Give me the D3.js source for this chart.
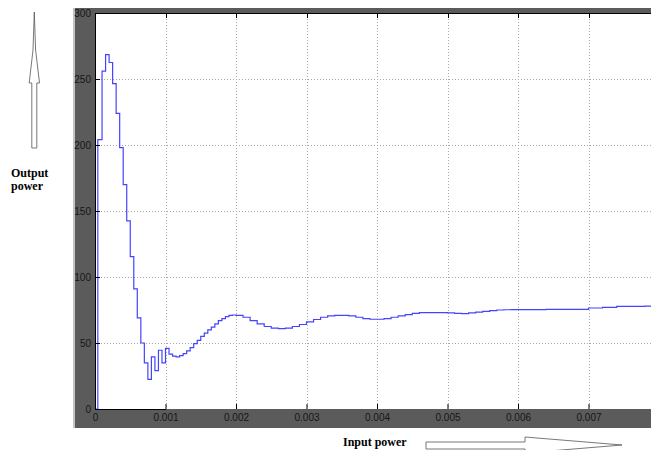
<!DOCTYPE html>
<html>
<head>
<meta charset="utf-8">
<script src="https://cdn.jsdelivr.net/npm/d3@7"></script>
<style>
  body { margin: 0; background: #fff; }
  .tick text { font-family: "Liberation Sans", Arial, sans-serif; font-size: 10px; fill: #161616; }
  .lbl { font-family: "Liberation Serif", "Times New Roman", serif; font-weight: bold; font-size: 12px; fill: #000; }
</style>
</head>
<body>
<div id="chart"></div>
<script>
// sample times (s) and output power
const times = [0, 0.00004, 0.0001, 0.00015, 0.0002, 0.00025, 0.0003, 0.00035, 0.0004, 0.00045,
  0.0005, 0.00055, 0.0006, 0.00065, 0.0007, 0.00075, 0.0008, 0.00085, 0.0009, 0.00095,
  0.001, 0.00105, 0.0011, 0.00115, 0.0012, 0.00125, 0.0013, 0.00135, 0.0014, 0.00145,
  0.0015, 0.00155, 0.0016, 0.00165, 0.0017, 0.00175, 0.0018, 0.00185, 0.0019, 0.00195,
  0.002, 0.0021, 0.0022, 0.0023, 0.0024, 0.0025, 0.0026, 0.0027, 0.0028, 0.0029,
  0.003, 0.0031, 0.0032, 0.0033, 0.0034, 0.0035, 0.0036, 0.0037, 0.0038, 0.0039,
  0.004, 0.0041, 0.0042, 0.0043, 0.0044, 0.0045, 0.0046, 0.0047, 0.0048, 0.0049,
  0.005, 0.0051, 0.0052, 0.0053, 0.0054, 0.0055, 0.0056, 0.0057, 0.0058, 0.0059,
  0.006, 0.0062, 0.0064, 0.0066, 0.0068, 0.007, 0.0072, 0.0074, 0.0076, 0.0078, 0.008];
const power = [0, 204, 256, 268.5, 262.5, 246.5, 224, 198, 170, 142.5,
  115.5, 91, 69, 50, 35, 22.5, 39.5, 29, 44.5, 35,
  46, 41.5, 40, 39.5, 40.5, 42, 44, 46.5, 49.5, 52,
  55, 57.5, 60, 62, 64.5, 67, 68.5, 70, 71, 71.2,
  71, 69.5, 67, 64.5, 62.5, 61.3, 60.9, 61.3, 62.5, 64,
  66, 67.8, 69.5, 70.5, 71, 71, 70.5, 69.5, 68.5, 68,
  68, 68.5, 69.5, 70.5, 71.5, 72.5, 73, 73, 73, 73,
  72.8, 72.4, 72.3, 72.8, 73.4, 74, 74.6, 75, 75.2, 75.3,
  75.3, 75.3, 75.4, 75.4, 75.5, 76.5, 77, 77.8, 77.8, 78, 78];
const xTicks = [0, 0.001, 0.002, 0.003, 0.004, 0.005, 0.006, 0.007];
const yTicks = [0, 50, 100, 150, 200, 250, 300];

const width = 651, height = 450;
const margin = { top: 13, left: 95, bottom: 409 };

const svg = d3.select("#chart").append("svg")
  .attr("width", width).attr("height", height);

// grey scope frame
svg.append("rect").attr("x", 73).attr("y", 8).attr("width", width - 73).attr("height", 420).attr("fill", "#5b5b5b");
svg.append("rect").attr("x", 73).attr("y", 8).attr("width", 2).attr("height", 420).attr("fill", "#c4c4c4");

let x = d3.scaleLinear().domain([0, 0.001]).range([margin.left, margin.left + 70.5]);
let y = d3.scaleLinear().domain([0, 300]).range([margin.bottom, margin.top]);

svg.append("rect")
  .attr("x", margin.left).attr("y", margin.top)
  .attr("width", width - margin.left).attr("height", margin.bottom - margin.top)
  .attr("fill", "#fff");

svg.append("clipPath").attr("id", "clip")
  .append("rect")
  .attr("x", margin.left).attr("y", margin.top)
  .attr("width", width - margin.left).attr("height", margin.bottom - margin.top);

// dotted grid
let grid = svg.append("g").attr("stroke", "#a8a8a8").attr("stroke-dasharray", "1,2").attr("stroke-width", 1);
grid.selectAll(".gx").data(xTicks.slice(1)).join("line")
  .attr("x1", d => Math.round(x(d)) + 0.5).attr("x2", d => Math.round(x(d)) + 0.5)
  .attr("y1", margin.top).attr("y2", margin.bottom);
grid.selectAll(".gy").data(yTicks.slice(1, -1)).join("line")
  .attr("x1", margin.left).attr("x2", width)
  .attr("y1", d => Math.round(y(d)) + 0.5).attr("y2", d => Math.round(y(d)) + 0.5);

// trace
let line = d3.line()
  .x((d, i) => x(times[i]))
  .y(d => y(d))
  .curve(d3.curveStepAfter);

svg.append("path")
  .datum(power)
  .attr("clip-path", "url(#clip)")
  .attr("fill", "none")
  .attr("stroke", "#4444ff")
  .attr("stroke-width", 1.2)
  .attr("d", line);

// axes with inward ticks
svg.append("g")
  .attr("transform", `translate(${margin.left},0)`)
  .call(d3.axisLeft(y).tickValues(yTicks).tickSizeInner(-5).tickSizeOuter(0).tickPadding(4))
  .call(g => g.selectAll("line, path").attr("stroke", "#000"));

svg.append("g")
  .attr("transform", `translate(0,${margin.bottom})`)
  .call(d3.axisBottom(x).tickValues(xTicks).tickFormat(d3.format("")).tickSizeInner(-5).tickSizeOuter(0).tickPadding(5))
  .call(g => g.selectAll("line, path").attr("stroke", "#000"));

// top border with inward ticks
svg.append("line").attr("x1", margin.left).attr("x2", width).attr("y1", margin.top + 0.5).attr("y2", margin.top + 0.5).attr("stroke", "#000");
svg.selectAll(".tt").data(xTicks.slice(1)).join("line")
  .attr("x1", d => Math.round(x(d)) + 0.5).attr("x2", d => Math.round(x(d)) + 0.5)
  .attr("y1", margin.top).attr("y2", margin.top + 5).attr("stroke", "#000");

// hollow arrows and annotations
svg.append("path")
  .attr("d", "M34.3,12 L35.6,50 L39.5,83 L36.8,83 L36.8,148 L31.8,148 L31.8,83 L29.2,83 L33,50 Z")
  .attr("fill", "#fff").attr("stroke", "#555").attr("stroke-width", 0.8);
svg.append("text").attr("class", "lbl").attr("x", 11).attr("y", 177).text("Output");
svg.append("text").attr("class", "lbl").attr("x", 11).attr("y", 190).text("power");

svg.append("path")
  .attr("d", "M426,442 L525,442 L525,437 L622,445 L525,453 L525,449 L426,449 Z")
  .attr("fill", "#fff").attr("stroke", "#555").attr("stroke-width", 0.8);
svg.append("text").attr("class", "lbl").attr("x", 343).attr("y", 446).text("Input power");
</script>
</body>
</html>
